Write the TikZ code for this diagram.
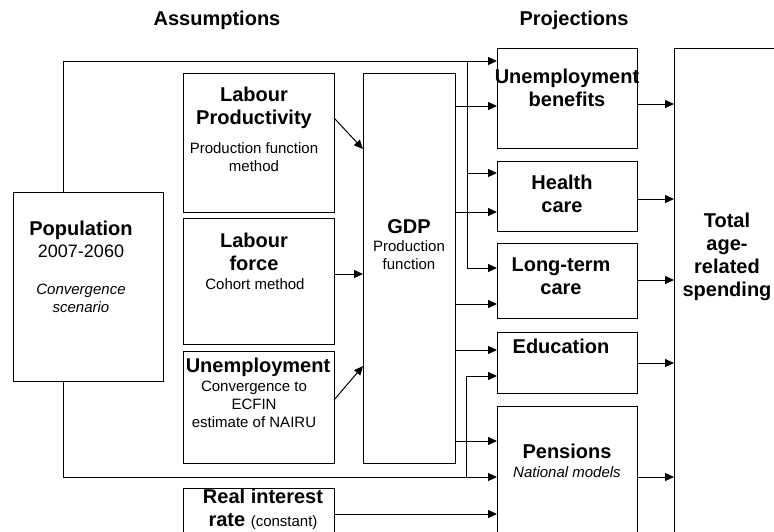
\documentclass[tikz,border=0pt]{standalone}
\usepackage{fontspec}
\setmainfont{Liberation Sans}
\usetikzlibrary{arrows.meta}
\usetikzlibrary{calc}
\newcommand\hdfont{\fontsize{20}{23}\selectfont\bfseries}
\newcommand\smfont{\fontsize{15}{18}\selectfont}
\newcommand\yrfont{\fontsize{18}{21}\selectfont}

\begin{document}
\begin{tikzpicture}[x=1pt,y=-1pt,
    box/.style={draw,line width=1pt,inner sep=0pt,outer sep=0pt},
    arr/.style={line width=1pt,-{Triangle[length=9pt,width=8pt]}},
    ln/.style={line width=1pt},
    hd/.style={align=center,font=\hdfont,inner sep=0pt},
    sm/.style={align=center,font=\smfont,inner sep=0pt}]

        \useasboundingbox (0,0) rectangle (774,531);
        \clip (0,0) rectangle (774,531);

        % Headings
        \node[hd] (assump) at (217,20) {Assumptions};
        \node[hd] (proj) at (574,20) {Projections};

        % Assumption boxes
        \node[box,minimum width=150,minimum height=189] (pop) at (88,286.5) {};
        \node[box,minimum width=151,minimum height=139] (lp) at (258.5,142.5) {};
        \node[box,minimum width=151,minimum height=126] (lf) at (258.5,281) {};
        \node[box,minimum width=151,minimum height=112] (un) at (258.5,407) {};
        \node[box,minimum width=151,minimum height=72] (rir) at (258.5,524) {};
        \node[box,minimum width=92,minimum height=390] (gdp) at (409,268) {};

        % Projection boxes
        \node[box,minimum width=140,minimum height=100] (ub) at (567,98) {};
        \node[box,minimum width=140,minimum height=70] (hc) at (567,196) {};
        \node[box,minimum width=140,minimum height=75] (ltc) at (567,280.5) {};
        \node[box,minimum width=140,minimum height=61] (edu) at (567,362.5) {};
        \node[box,minimum width=140,minimum height=154] (pen) at (567,483) {};
        \node[box,minimum width=126,minimum height=512] (tot) at (737,304) {};

        % Texts
        \node[hd] (pop-t) at (81,230) {Population};
        \node[align=center,font=\yrfont,inner sep=0pt] (pop-y) at (81,251) {2007-2060};
        \node[sm,font=\smfont\itshape] (pop-s) at (81,298) {Convergence\\scenario};
        \node[hd] (lp-t) at (254,108) {Labour\\Productivity};
        \node[sm] (lp-s) at (254,157) {Production function\\method};
        \node[hd] (lf-t) at (254,251.5) {Labour\\force};
        \node[sm] (lf-s) at (255,284) {Cohort method};
        \node[hd] (un-t) at (258,367) {Unemployment};
        \node[sm] (un-s) at (254,404) {Convergence to\\ECFIN\\estimate of NAIRU};
        \node[hd] (rir-t) at (263,509.5) {Real interest\\rate {\smfont\mdseries (constant)}};
        \node[hd] (gdp-t) at (409,227) {GDP};
        \node[sm] (gdp-s) at (409,255.5) {Production\\function};
        \node[hd] (ub-t) at (567,88) {Unemployment\\benefits};
        \node[hd] (hc-t) at (562,193.5) {Health\\care};
        \node[hd] (ltc-t) at (561,276) {Long-term\\care};
        \node[hd] (edu-t) at (561,346) {Education};
        \node[hd] (pen-t) at (567,451) {Pensions};
        \node[sm,font=\smfont\itshape] (pen-s) at (567,472) {National models};
        \node[hd] (tot-t) at (727,257) {Total\\age-\\related\\spending};

        % Population lines
        \draw[arr] (pop.north -| 63,0) |- (ub.west |- 0,61);
        \draw[arr] (467,61) |- (ltc.west |- 0,268);
        \draw[arr] (467,173) -- (hc.west |- 0,173);
        \draw[arr] (pop.south -| 63,0) |- (pen.west |- 0,477);
        \draw[arr] (466,477) |- (edu.west |- 0,376);

        % Into GDP
        \draw[arr] (lp.east |- 0,118) -- (gdp.west |- 0,149);
        \draw[arr] (lf.east |- 0,274) -- (gdp.west |- 0,274);
        \draw[arr] (un.east |- 0,400) -- (gdp.west |- 0,366);

        % GDP to projections
        \foreach \n/\y in {ub/106,hc/212,ltc/304,edu/350,pen/441}
        {
          \draw[arr] (gdp.east |- 0,\y) -- (\n.west |- 0,\y);
        }
        \draw[arr] (rir.east |- 0,514) -- (pen.west |- 0,514);

        % Projections to total
        \foreach \n/\y in {ub/104,hc/199,ltc/280,edu/363,pen/477}
        {
          \draw[arr] (\n.east |- 0,\y) -- (tot.west |- 0,\y);
        }
    \end{tikzpicture}
\end{document}
